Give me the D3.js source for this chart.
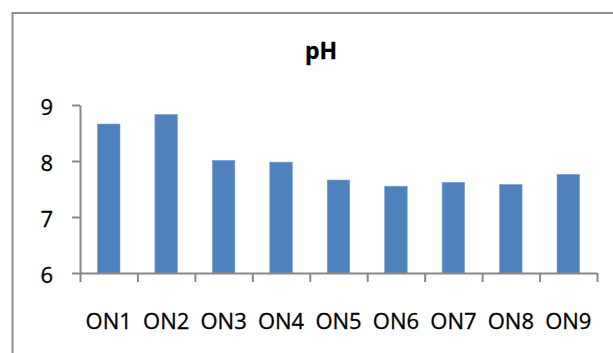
<!DOCTYPE html>
<html>
<head>
<meta charset="utf-8">
<script src="https://cdn.jsdelivr.net/npm/d3@7"></script>
<style>
  html, body { margin: 0; padding: 0; background: #fff; }
  svg { display: block; }
</style>
</head>
<body>
<svg id="chart" width="613" height="353"></svg>
<script>
const categories = ["ON1", "ON2", "ON3", "ON4", "ON5", "ON6", "ON7", "ON8", "ON9"];
const phValues = [8.66, 8.83, 8.01, 7.98, 7.66, 7.55, 7.62, 7.58, 7.76];
const yTicks = [6, 7, 8, 9];
const title = "pH";

const svg = d3.select("#chart");
const font = "'Open Sans', 'Noto Sans', sans-serif";
const axisColor = "#878787";

// outer chart frame (extends past right/bottom edge)
svg.append("rect")
  .attr("x", 12.5).attr("y", 13)
  .attr("width", 700).attr("height", 400)
  .attr("fill", "none")
  .attr("stroke", "#8e8e8e")
  .attr("stroke-width", 2);

const plotL = 80, plotR = 597, plotT = 105, plotB = 273;

const x = d3.scaleBand().domain(categories).range([plotL, plotR])
  .paddingInner(0.608).paddingOuter(0.304);
const xb = d3.scaleLinear().domain([0, categories.length]).range([plotL, plotR]);
const y = d3.scaleLinear().domain([6, 9]).range([plotB, plotT]);

// title
svg.append("text")
  .attr("x", 321).attr("y", 59)
  .attr("text-anchor", "middle")
  .attr("font-family", font)
  .attr("font-weight", "bold")
  .attr("font-size", 23)
  .attr("fill", "#000")
  .attr("stroke", "#000").attr("stroke-width", 0.3)
  .text(title);

// bars
svg.append("g").selectAll("rect")
  .data(categories)
  .join("rect")
  .attr("x", d => x(d))
  .attr("width", x.bandwidth())
  .attr("y", (d, i) => y(phValues[i]))
  .attr("height", (d, i) => y(6) - y(phValues[i]))
  .attr("fill", "#4f81bd")
  .attr("stroke", "#7a9fd0")
  .attr("stroke-width", 0.6);

// y axis
const yAxis = svg.append("g")
  .attr("transform", `translate(${plotL},0)`)
  .call(d3.axisLeft(y).tickValues(yTicks).tickFormat(d3.format("d")).tickSize(8).tickSizeOuter(0).tickPadding(19));
yAxis.select(".domain").attr("stroke", axisColor).attr("stroke-width", 2);
yAxis.selectAll(".tick line").attr("stroke", axisColor).attr("stroke-width", 2);
yAxis.selectAll(".tick text")
  .attr("font-family", font).attr("font-size", 22).attr("fill", "#000")
  .attr("stroke", "#000").attr("stroke-width", 0.3)
  .attr("dy", "0.42em");

// x axis boundary ticks
const xAxis = svg.append("g")
  .attr("transform", `translate(0,${plotB})`)
  .call(d3.axisBottom(xb).tickValues(d3.range(0, categories.length + 1)).tickFormat("").tickSize(9).tickSizeOuter(0));
xAxis.select(".domain").attr("stroke", axisColor).attr("stroke-width", 2);
xAxis.selectAll(".tick line").attr("stroke", axisColor).attr("stroke-width", 2);

// x labels
const xLab = svg.append("g")
  .attr("transform", `translate(0,${plotB})`)
  .call(d3.axisBottom(x).tickSize(0).tickPadding(40));
xLab.select(".domain").remove();
xLab.selectAll(".tick text")
  .attr("font-family", font).attr("font-size", 22).attr("fill", "#000")
  .attr("stroke", "#000").attr("stroke-width", 0.3);
</script>
</body>
</html>
